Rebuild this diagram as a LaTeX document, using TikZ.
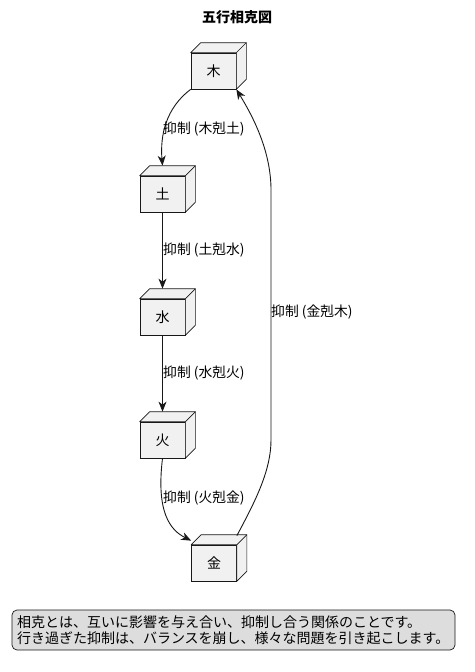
\documentclass[tikz,border=0pt]{standalone}
\usepackage{fontspec}
\setmainfont{Noto Sans CJK JP}
\usetikzlibrary{arrows.meta}
\definecolor{boxfill}{HTML}{F1F1F1}
\definecolor{linecol}{HTML}{181818}
\definecolor{legendfill}{HTML}{DDDDDD}

\begin{document}
\begin{tikzpicture}[
		x=1pt,
		y=-1pt,
		element/.style={
				draw=linecol,
				fill=boxfill,
				line width=0.7pt,
				minimum width=45pt,
				minimum height=36pt,
				inner sep=0pt,
				font=\fontsize{14}{16}\selectfont
			},
		rel/.style={draw=linecol, line width=0.9pt, -{Stealth[length=10pt, width=8pt, inset=3pt]}},
		rellabel/.style={anchor=west, inner sep=1pt, font=\fontsize{13.8}{15}\selectfont}
	]
	\useasboundingbox (0, 0) rectangle (474, 672);

	\node[font=\fontsize{14}{16}\selectfont\bfseries] (title) at (237, 17) {五行相克図};

	\node[element] (moku) at (213.5, 71) {木};
	\node[element] (do) at (162.5, 194) {土};
	\node[element] (sui) at (162.5, 317) {水};
	\node[element] (ka) at (162.5, 440) {火};
	\node[element] (kin) at (214, 563) {金};

	% depth of each box
	\foreach \n in {moku, do, sui, ka, kin} {
			\draw[draw=linecol, fill=boxfill, line width=0.7pt, line join=round]
			(\n.north west) -- ++(10pt, 10pt) -- ([shift={(10pt, 10pt)}]\n.north east)
			-- ([shift={(10pt, 10pt)}]\n.south east) -- (\n.south east) -- (\n.north east) -- cycle;
			\draw[draw=linecol, line width=0.7pt] (\n.north east) -- ++(10pt, 10pt);
		}

	\draw[rel] (moku.south west) .. controls (166, 108) and (160, 135) .. ([yshift=10pt]do.north);
	\node[rellabel] (l1) at (162, 129) {抑制 (木剋土)};

	\draw[rel] (do.south) -- ([yshift=10pt]sui.north);
	\node[rellabel] (l2) at (162, 250) {抑制 (土剋水)};

	\draw[rel] (sui.south) -- ([yshift=10pt]ka.north);
	\node[rellabel] (l3) at (162, 373) {抑制 (水剋火)};

	\draw[rel] (ka.south) .. controls (156, 512) and (170, 530) .. ([yshift=4pt]kin.north west);
	\node[rellabel] (l4) at (162, 498) {抑制 (火剋金)};

	\draw[rel] ([yshift=9pt]kin.north east) .. controls (256, 500) and (271, 470) .. (271, 440)
	-- (271, 190) .. controls (271, 150) and (252, 115) .. (moku.south east);
	\node[rellabel] (l5) at (270, 312) {抑制 (金剋木)};

	\node[
		draw=linecol,
		fill=legendfill,
		line width=0.7pt,
		rounded corners=5pt,
		text width=433pt,       % legend box 443 wide
		inner xsep=5pt,
		minimum height=40pt,
		align=left,
		font=\fontsize{14}{15.5}\selectfont
	] (legend) at (233.5, 630) {相克とは、互いに影響を与え合い、抑制し合う関係のことです。\\行き過ぎた抑制は、バランスを崩し、様々な問題を引き起こします。};
\end{tikzpicture}
\end{document}
